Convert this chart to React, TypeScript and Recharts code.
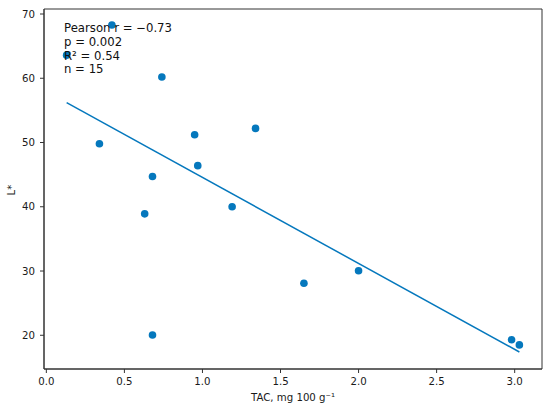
import React from 'react';
import { ScatterChart, Scatter, XAxis, YAxis, ReferenceLine, ReferenceArea } from 'recharts';

// TAC (mg 100 g-1) and L* for each sample
const tac = [0.13, 0.42, 0.74, 0.34, 0.95, 1.34, 0.97, 0.68, 0.63, 1.19, 0.68, 1.65, 2.0, 2.98, 3.03];
const lStar = [63.6, 68.3, 60.2, 49.8, 51.2, 52.2, 46.4, 44.7, 38.9, 40.0, 20.05, 28.1, 30.05, 19.3, 18.5];

// fitted regression line end points
const fitX = [0.13, 3.03];
const fitY = [56.2, 17.4];

const xTicks = [0, 0.5, 1.0, 1.5, 2.0, 2.5, 3.0];
const yTicks = [20, 30, 40, 50, 60, 70];
const statLines = ['Pearson r = \u22120.73', 'p = 0.002', 'R\u00b2 = 0.54', 'n = 15'];

const points = tac.map((x, i) => ({ x, y: lStar[i] }));

const BLUE = '#0578BD';
const FONT = '"DejaVu Sans", sans-serif';
const AXIS = '#333';

const Dot = (props: any) => <circle cx={props.cx} cy={props.cy} r={3.8} fill={BLUE} />;

const App: React.FC = () => {
  const tickStyle = { fontSize: 10.2, fill: '#1a1a1a', fontFamily: FONT };
  return (
    <div style={{ position: 'absolute', left: 0, top: 0, width: 550, height: 411, background: '#fff' }}>
      <ScatterChart width={550} height={411} margin={{ top: 9, right: 8, bottom: 0, left: 0 }}>
        <XAxis
          type="number"
          dataKey="x"
          domain={[-0.015, 3.175]}
          ticks={xTicks}
          tickFormatter={(v: number) => v.toFixed(1)}
          allowDataOverflow
          height={42}
          tick={tickStyle}
          tickSize={4}
          tickMargin={5}
          stroke={AXIS}
        />
        <YAxis
          type="number"
          dataKey="y"
          domain={[14.75, 70.78]}
          ticks={yTicks}
          allowDataOverflow
          width={44}
          tick={tickStyle}
          tickSize={4}
          tickMargin={5}
          stroke={AXIS}
        />
        <ReferenceArea x1={-0.015} x2={3.175} y1={14.75} y2={70.78} fill="none" stroke={AXIS} strokeWidth={1} />
        <ReferenceLine
          segment={[{ x: fitX[0], y: fitY[0] }, { x: fitX[1], y: fitY[1] }]}
          stroke={BLUE}
          strokeWidth={1.5}
        />
        <Scatter data={points} fill={BLUE} shape={<Dot />} isAnimationActive={false} />
      </ScatterChart>
      <svg width={550} height={411} style={{ position: 'absolute', left: 0, top: 0, pointerEvents: 'none' }}>
        {statLines.map((s, i) => (
          <text key={s} x={64} y={32.3 + i * 13.7} fontSize={11.7} fontFamily={FONT} fill="#111">
            {s}
          </text>
        ))}
        <text x={293} y={401} textAnchor="middle" fontSize={10.2} fontFamily={FONT} fill="#1a1a1a">
          TAC, mg 100 g{'\u207b\u00b9'}
        </text>
        <text x={15} y={190} transform="rotate(-90 15 190)" textAnchor="middle" fontSize={10.2} fontFamily={FONT} fill="#1a1a1a">
          L*
        </text>
      </svg>
    </div>
  );
};

export default App;
